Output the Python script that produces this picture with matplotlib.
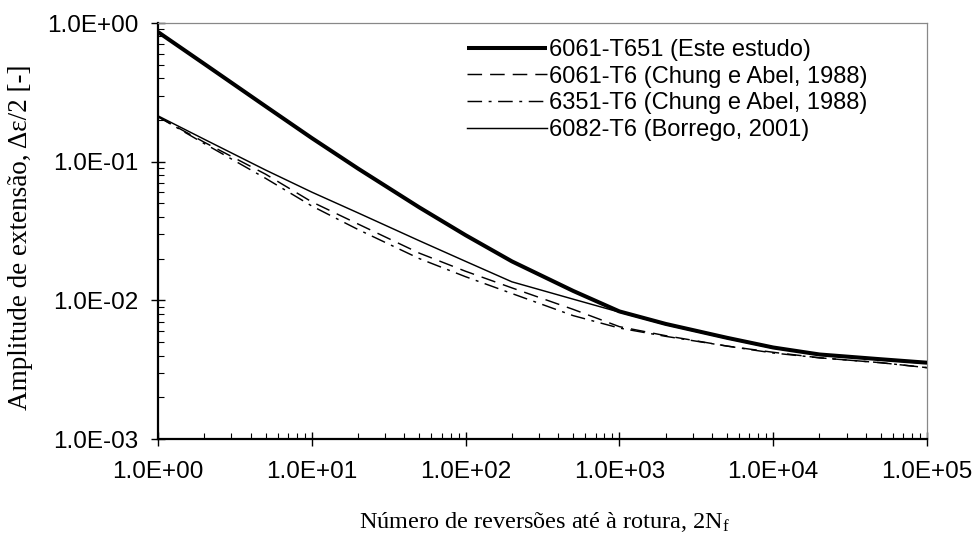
import matplotlib
matplotlib.use("Agg")
import matplotlib.pyplot as plt
from matplotlib.ticker import LogLocator, FuncFormatter, NullFormatter

plt.rcParams["font.family"] = ["Liberation Sans", "DejaVu Sans"]
plt.rcParams["mathtext.fontset"] = "custom"
plt.rcParams["mathtext.rm"] = "Liberation Serif"
plt.rcParams["mathtext.it"] = "Liberation Serif:italic"

# Reversals to failure, 2Nf
reversals = [1, 2, 5, 10, 20, 50, 100, 200, 500, 1000, 2000, 5000,
             1e4, 2e4, 5e4, 1e5]

# Strain amplitude, Δε/2
al6061_t651 = [0.861, 0.507, 0.251, 0.148, 0.0891, 0.0468, 0.0295, 0.0191,
               0.0117, 0.00832, 0.00676, 0.00537, 0.00457, 0.00407,
               0.00376, 0.00355]
al6061_t6 = [0.211, 0.138, 0.0813, 0.0513, 0.0355, 0.0219, 0.0162, 0.0123,
             0.00861, 0.00646, 0.00556, 0.00468, 0.00422, 0.00385,
             0.00355, 0.00327]
al6351_t6 = [0.211, 0.135, 0.0759, 0.0479, 0.0324, 0.0200, 0.0148, 0.0112,
             0.00776, 0.00631, 0.00550, 0.00468, 0.00417, 0.00385,
             0.00355, 0.00327]
al6082_t6 = [0.214, 0.145, 0.0871, 0.0603, 0.0427, 0.0269, 0.0191, 0.0136,
             0.0102, 0.00822, 0.00668, 0.00531, 0.00452, 0.00407,
             0.00372, 0.00351]

labels = ["6061-T651 (Este estudo)",
          "6061-T6 (Chung e Abel, 1988)",
          "6351-T6 (Chung e Abel, 1988)",
          "6082-T6 (Borrego, 2001)"]

fig = plt.figure(figsize=(9.78, 5.45), dpi=100)
ax = fig.add_axes([158 / 978, 1 - 439 / 545, 769 / 978, 416 / 545])

ax.plot(reversals, al6061_t651, color="black", lw=2.9, label=labels[0],
        solid_capstyle="butt", zorder=5)
l2, = ax.plot(reversals, al6061_t6, color="black", lw=1.05, label=labels[1])
l2.set_dashes((10, 5.5))
l3, = ax.plot(reversals, al6351_t6, color="black", lw=1.05, label=labels[2])
l3.set_dashes((10, 4.5, 2, 4.5))
ax.plot(reversals, al6082_t6, color="black", lw=1.05, label=labels[3])

ax.set_xscale("log")
ax.set_yscale("log")
ax.set_xlim(1, 1e5)
ax.set_ylim(1e-3, 1)

fmt = FuncFormatter(lambda v, pos: f"{v:.1E}")
ax.xaxis.set_major_locator(LogLocator(base=10, numticks=10))
ax.yaxis.set_major_locator(LogLocator(base=10, numticks=10))
ax.xaxis.set_minor_locator(LogLocator(base=10, subs=range(2, 10), numticks=20))
ax.yaxis.set_minor_locator(LogLocator(base=10, subs=range(2, 10), numticks=20))
ax.xaxis.set_major_formatter(fmt)
ax.yaxis.set_major_formatter(fmt)
ax.xaxis.set_minor_formatter(NullFormatter())
ax.yaxis.set_minor_formatter(NullFormatter())

ax.tick_params(which="major", direction="inout", length=10, width=1.0,
               labelsize=17.5, color="black")
ax.tick_params(axis="x", which="major", pad=11)
ax.tick_params(axis="y", which="major", pad=9)
ax.tick_params(which="minor", direction="in", length=4.5, width=0.8)

for side in ("left", "bottom"):
    ax.spines[side].set_linewidth(1.6)
    ax.spines[side].set_color("black")
for side in ("top", "right"):
    ax.spines[side].set_linewidth(0.9)
    ax.spines[side].set_color("#888888")

ax.set_xlabel("Número de reversões até à rotura, 2N$_\\mathregular{f}$",
              family="Liberation Serif", fontsize=17.5, va="center")
ax.xaxis.set_label_coords(0.503, -0.20)
ax.set_ylabel("Amplitude de extensão, Δε/2 [-]",
              family="Liberation Serif", fontsize=19.5, va="center")
ax.yaxis.set_label_coords(-0.179, 0.486)

ax.legend(loc="upper left", bbox_to_anchor=(0.402, 0.962), frameon=False,
          fontsize=17, handlelength=3.4, handletextpad=0.05,
          labelspacing=0.2, borderpad=0, borderaxespad=0)

fig.savefig("out.png", dpi=100)
